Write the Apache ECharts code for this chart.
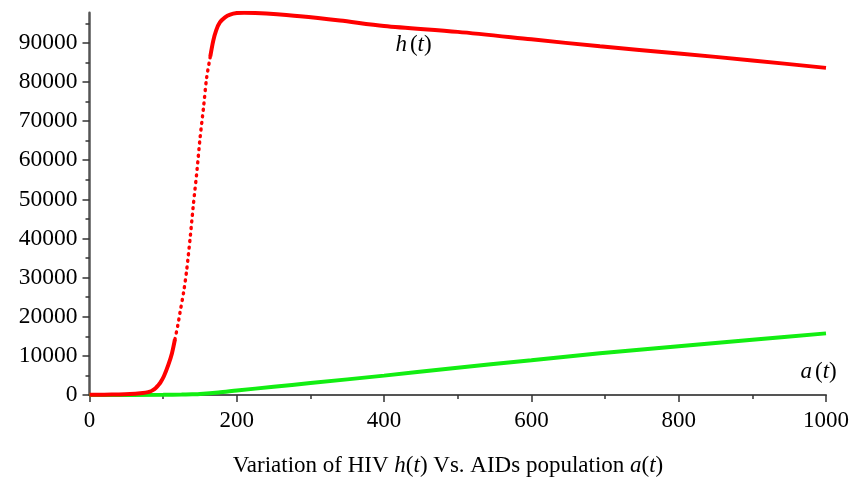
<!DOCTYPE html>
<html>
<head>
<meta charset="utf-8">
<script src="https://cdn.jsdelivr.net/npm/echarts@6/dist/echarts.min.js"></script>
<style>
  html, body { margin: 0; padding: 0; background: #fff; }
  #chart { width: 863px; height: 482px; }
</style>
</head>
<body>
<div id="chart"></div>
<script>
// HIV population h(t): time and value samples
const hT = [0, 20, 40, 55, 69, 76, 82, 86, 90, 93, 96, 101, 107, 112, 116, 120, 123, 128, 132, 137, 141, 146, 150, 155, 159, 164, 168, 172, 177, 184, 191, 200, 210, 225, 240, 286, 340, 400, 500, 600, 693, 800, 900, 1000];
const hV = [60, 90, 150, 250, 430, 600, 850, 1250, 1800, 2400, 3100, 4800, 7700, 10700, 14200, 17900, 21200, 26500, 32000, 40800, 48600, 57500, 65500, 73800, 81000, 86500, 90500, 93200, 95200, 96500, 97200, 97600, 97700, 97650, 97500, 96800, 95700, 94300, 92800, 90900, 89100, 87300, 85500, 83600];

// AIDS population a(t)
const aT = [0, 100, 125, 140, 150, 175, 200, 250, 300, 400, 490, 600, 693, 800, 900, 1000];
const aV = [0, 40, 110, 200, 280, 650, 1150, 2100, 3050, 4950, 6800, 8900, 10650, 12450, 14100, 15750];

// Axis ticks
const xTicks = [0, 200, 400, 600, 800, 1000];
const yTicks = [0, 10000, 20000, 30000, 40000, 50000, 60000, 70000, 80000, 90000];
const yMinorTicks = [5000, 15000, 25000, 35000, 45000, 55000, 65000, 75000, 85000, 95000];
const yMax = 97700;

// Curve labels
const hLabel = { t: 440, v: 89400 };
const aLabel = { t: 990, v: 5900 };

// The steep part of h(t) is drawn dotted (widely spaced sample points)
const steepFrom = 116, steepTo = 164;
const hSolid = hT.map((t, i) => (t > steepFrom && t < steepTo) ? [t, null] : [t, hV[i]]);
const hDotted = hT.map((t, i) => [t, hV[i]]).filter(p => p[0] >= steepFrom && p[0] <= steepTo);
const aData = aT.map((t, i) => [t, aV[i]]);

const serif = "'Liberation Serif', 'Times New Roman', 'DejaVu Serif', serif";
const axisColor = '#555';
const richText = {
  n: { fontFamily: serif, fontSize: 23, color: '#000', fontWeight: 'normal' },
  i: { fontFamily: serif, fontSize: 23, color: '#000', fontWeight: 'normal', fontStyle: 'italic' }
};
const plain = v => String(v);

function curveLabel(pos, text) {
  return {
    symbol: 'circle',
    symbolSize: 1,
    itemStyle: { color: 'rgba(0,0,0,0)' },
    data: [{ coord: [pos.t, pos.v] }],
    label: { show: true, position: 'inside', formatter: text, rich: richText }
  };
}

const chart = echarts.init(document.getElementById('chart'));
chart.setOption({
  animation: false,
  backgroundColor: '#fff',
  textStyle: { fontFamily: serif },
  grid: { left: 89.5, right: 37, top: 12.7, bottom: 87, containLabel: false },
  title: {
    text: '{n|Variation of HIV }{i|h}{n|(}{i|t}{n|) Vs. AIDs population }{i|a}{n|(}{i|t}{n|)}',
    left: 443,
    textAlign: 'center',
    top: 449,
    textStyle: { fontWeight: 'normal', rich: richText }
  },
  xAxis: {
    type: 'value',
    min: 0,
    max: 1000,
    interval: 200,
    axisLine: { lineStyle: { color: axisColor, width: 2 } },
    axisTick: { length: 7, lineStyle: { color: '#333', width: 1.5 } },
    minorTick: { show: true, splitNumber: 2, length: 4, lineStyle: { color: '#333', width: 1.5 } },
    axisLabel: {
      customValues: xTicks, formatter: plain,
      color: '#000', fontSize: 23, fontFamily: serif, margin: 14
    },
    splitLine: { show: false }
  },
  yAxis: [
    {
      type: 'value',
      min: 0,
      max: yMax,
      axisLine: { show: true, lineStyle: { color: axisColor, width: 2.5 } },
      axisTick: { show: true, customValues: yTicks, length: 7, lineStyle: { color: '#333', width: 1.5 } },
      axisLabel: { customValues: yTicks, formatter: plain, color: '#000', fontSize: 23.5, fontFamily: serif, margin: 12 },
      splitLine: { show: false }
    },
    {
      type: 'value',
      min: 0,
      max: yMax,
      position: 'left',
      axisLine: { show: false },
      axisTick: { show: true, customValues: yMinorTicks, length: 4, lineStyle: { color: '#333', width: 1.5 } },
      axisLabel: { show: false },
      splitLine: { show: false }
    }
  ],
  series: [
    {
      name: 'a(t)',
      type: 'line',
      data: aData,
      smooth: 0.3,
      showSymbol: false,
      lineStyle: { color: '#12ee12', width: 4 },
      markPoint: curveLabel(aLabel, '{i|a} {n|(}{i|t}{n|)}')
    },
    {
      name: 'h(t)',
      type: 'line',
      data: hSolid,
      smooth: 0.3,
      connectNulls: false,
      showSymbol: false,
      lineStyle: { color: '#ff0000', width: 4 },
      markPoint: curveLabel(hLabel, '{i|h} {n|(}{i|t}{n|)}')
    },
    {
      name: 'h(t) steep',
      type: 'line',
      data: hDotted,
      smooth: 0.3,
      showSymbol: false,
      lineStyle: { color: '#ff0000', width: 3.4, type: [1, 5.6], cap: 'round' }
    }
  ]
});
</script>
</body>
</html>
